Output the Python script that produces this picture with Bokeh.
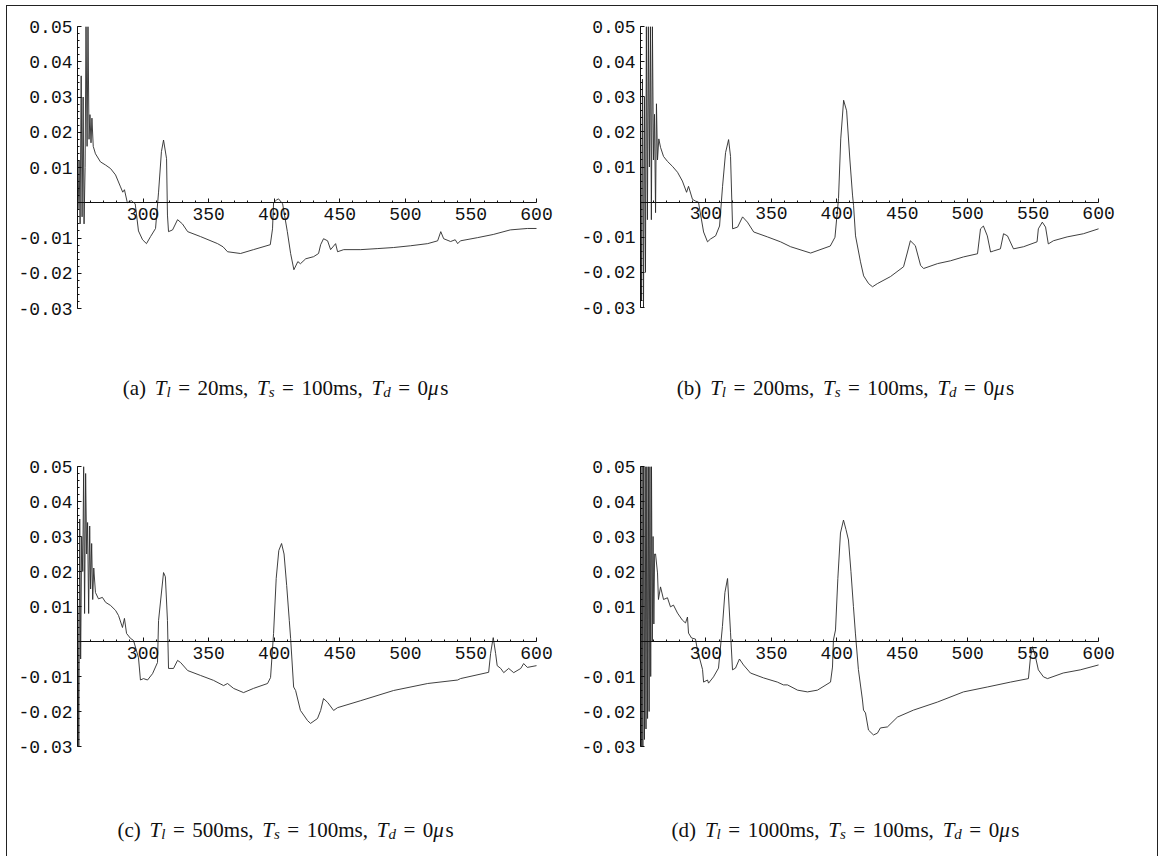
from bokeh.plotting import figure
from bokeh.layouts import column, row
from bokeh.models import FixedTicker, PrintfTickFormatter, ColumnDataSource
from bokeh.core.properties import value
from bokeh.embed import file_html
from bokeh.resources import INLINE

# ---------------- data ----------------
xa = [250.5, 251.2, 252.0, 252.8, 253.5, 254.3, 255.0, 255.8, 256.5, 257.3, 258.0, 258.8, 259.5, 260.3, 261.0, 262.0,
      263.7, 267.5, 271.4, 275.2, 279.0, 282.8, 284.5, 285.8, 288.0, 291.0,
      294.0, 296.5, 299.6, 302.6, 305.7, 309.5, 311.8, 314.0, 315.6, 317.9,
      318.6, 319.4, 322.5, 326.3, 330.0, 334.0, 343.8, 356.8, 361.0, 364.4,
      374.3, 384.2, 397.0, 398.7, 399.5, 401.8, 403.3, 406.4, 410.0, 412.5,
      415.0, 418.0, 420.0, 424.0, 430.0, 433.8, 435.4, 437.6, 440.7, 443.0,
      446.8, 448.3, 453.0, 466.0, 479.0, 491.0, 504.0, 517.0, 524.6, 527.0,
      529.2, 534.5, 538.0, 539.9, 542.0, 555.0, 567.0, 580.0, 593.0, 600.0]
ya = [-0.002, 0.012, -0.006, 0.036, -0.004, 0.030, -0.006, 0.010, 0.050, 0.016, 0.050, 0.018, 0.025, 0.017, 0.024, 0.016,
      0.0139, 0.0116, 0.0107, 0.0097, 0.0079, 0.0045, 0.0030, 0.0037, 0.0, 0.0006,
      -0.0003, -0.008, -0.0105, -0.0116, -0.0096, -0.0073, 0.003, 0.0145, 0.0178, 0.0125,
      -0.0035, -0.0082, -0.0077, -0.0048, -0.006, -0.0082, -0.0096, -0.0116, -0.0125, -0.0139,
      -0.0144, -0.0133, -0.0119, -0.0074, 0.0, 0.0008, 0.0011, -0.0003, -0.0082, -0.0144,
      -0.019, -0.0167, -0.0173, -0.0159, -0.0153, -0.0144, -0.0119, -0.0102, -0.0108, -0.0133,
      -0.0116, -0.0139, -0.0133, -0.0133, -0.013, -0.0127, -0.0122, -0.0116, -0.0108, -0.0082,
      -0.0102, -0.011, -0.0105, -0.0116, -0.0108, -0.0099, -0.009, -0.0077, -0.0073, -0.0073]

xb = [250.0, 250.8, 251.5, 252.3, 253.0, 253.8, 254.5, 255.3, 256.0, 256.8,
      257.6, 258.3, 259.1, 259.9, 260.7, 261.5, 262.2, 263.0, 264.0, 265.3,
      267.6, 270.6, 274.4, 278.3, 282.0, 285.2, 286.7, 289.7, 292.0, 294.3,
      298.2, 301.2, 303.5, 307.4, 310.4, 312.7, 315.0, 317.3, 318.8, 320.4,
      324.2, 328.0, 331.7, 336.5, 347.0, 357.0, 364.7, 380.0, 395.0, 398.6,
      401.3, 403.0, 405.2, 407.5, 410.0, 412.0, 412.8, 414.3, 418.1, 420.5,
      424.3, 427.3, 431.0, 441.0, 451.0, 454.0, 456.2, 460.0, 464.0, 466.3,
      477.0, 486.9, 496.8, 507.5, 509.8, 512.0, 515.0, 517.5, 519.8, 525.0,
      527.4, 530.4, 535.0, 542.7, 553.0, 554.0, 557.0, 559.5, 561.6, 565.5,
      576.0, 588.4, 600.0]
yb = [0.025, -0.028, 0.035, -0.030, 0.030, -0.020, 0.050, -0.005, 0.050, 0.010,
      0.050, -0.005, 0.050, 0.012, 0.025, -0.003, 0.028, 0.012, 0.018, 0.0156,
      0.013, 0.0116, 0.0102, 0.0085, 0.006, 0.0028, 0.0045, 0.0008, 0.0003, 0.0,
      -0.0085, -0.0113, -0.0105, -0.0096, -0.0068, 0.0045, 0.0141, 0.0178, 0.013, -0.0076,
      -0.0071, -0.0042, -0.0057, -0.0085, -0.0099, -0.0113, -0.0127, -0.0145, -0.0125, -0.010,
      0.001, 0.018, 0.029, 0.026, 0.012, 0.002, -0.001, -0.0096, -0.017, -0.021,
      -0.0232, -0.0241, -0.0232, -0.0212, -0.0184, -0.0142, -0.011, -0.0124, -0.018, -0.0189,
      -0.0175, -0.0167, -0.0156, -0.0147, -0.0076, -0.0068, -0.0096, -0.0142, -0.0139, -0.0133,
      -0.009, -0.0096, -0.0133, -0.0127, -0.0113, -0.0076, -0.0057, -0.0071, -0.0119, -0.011,
      -0.0099, -0.009, -0.0076]

xc = [250.3, 251.0, 251.7, 252.4, 253.2, 254.0, 254.7, 255.4, 256.2, 257.0,
      257.7, 258.5, 259.3, 260.0, 260.8, 261.6, 262.4, 263.7, 266.0, 269.0,
      271.4, 275.2, 279.0, 281.3, 284.3, 285.8, 287.4, 290.4, 292.7, 296.5,
      298.0, 300.3, 303.4, 307.2, 311.0, 311.8, 315.6, 317.0, 318.6, 319.4,
      323.2, 326.3, 328.6, 334.0, 343.8, 353.7, 361.4, 364.4, 369.0, 376.6,
      384.2, 394.9, 397.2, 399.5, 401.5, 403.5, 405.6, 407.5, 409.5, 411.5,
      412.5, 414.8, 416.3, 420.0, 425.4, 427.7, 433.0, 435.4, 437.6, 440.7,
      445.3, 448.3, 466.0, 491.0, 517.0, 539.9, 542.0, 563.5, 565.0, 566.6,
      567.0, 568.8, 570.0, 572.7, 575.0, 578.8, 582.6, 588.0, 590.2, 593.0,
      600.0]
yc = [0.010, -0.030, 0.035, -0.005, 0.030, 0.020, 0.050, 0.008, 0.048, 0.025,
      0.034, 0.008, 0.033, 0.015, 0.028, 0.012, 0.021, 0.014, 0.0122, 0.0126,
      0.0112, 0.0103, 0.0089, 0.0074, 0.004, 0.0066, 0.0023, 0.0009, 0.0003, -0.0046,
      -0.011, -0.0106, -0.011, -0.0092, -0.006, 0.006, 0.0197, 0.0185, 0.006, -0.0077,
      -0.0077, -0.0054, -0.006, -0.0083, -0.0097, -0.0111, -0.0126, -0.012, -0.0134, -0.0146,
      -0.0134, -0.012, -0.0103, 0.0023, 0.018, 0.026, 0.028, 0.025, 0.016, 0.006,
      0.0009, -0.013, -0.014, -0.0197, -0.0226, -0.0234, -0.022, -0.0197, -0.0163, -0.0174,
      -0.0197, -0.0189, -0.0169, -0.014, -0.012, -0.011, -0.0106, -0.0088, -0.0034, 0.0003,
      0.0011, -0.0034, -0.0069, -0.0077, -0.0089, -0.0077, -0.0089, -0.0077, -0.0063, -0.0074,
      -0.0069]

xd = [250.0, 250.6, 251.2, 251.8, 252.4, 253.0, 253.6, 254.2, 254.8, 255.4,
      256.0, 256.6, 257.2, 257.8, 258.4, 259.0, 259.6, 260.2, 260.8,
      261.5, 263.0, 263.7, 265.3, 267.6, 270.6, 272.9, 275.2, 278.3, 282.0,
      284.4, 285.9, 286.7, 289.0, 292.0, 293.5, 297.4, 298.2, 301.2, 302.0,
      305.8, 309.6, 312.6, 314.5, 316.5, 318.8, 320.3, 322.6, 325.6, 328.7,
      334.0, 344.0, 354.6, 359.2, 362.3, 370.0, 377.6, 385.2, 395.2, 396.7,
      397.4, 399.0, 400.8, 402.8, 405.1, 407.0, 408.9, 410.8, 412.7, 414.2,
      416.5, 419.6, 420.4, 421.9, 424.2, 428.0, 431.0, 433.3, 438.7, 446.3,
      458.6, 476.9, 496.8, 515.0, 532.7, 546.4, 548.0, 549.5, 551.8, 554.0,
      557.9, 561.0, 573.0, 586.0, 600.0]
yd = [0.050, -0.030, 0.050, -0.030, 0.050, -0.028, 0.050, -0.025, 0.050, -0.022,
      0.050, -0.020, 0.050, -0.010, 0.050, 0.000, 0.030, 0.005, 0.025,
      0.025, 0.0196, 0.012, 0.0156, 0.012, 0.0125, 0.0099, 0.0104, 0.0081, 0.0061,
      0.0053, 0.007, 0.0024, 0.001, 0.0007, -0.0024, -0.008, -0.0116, -0.011, -0.0119,
      -0.0101, -0.0076, 0.0043, 0.014, 0.018, 0.0025, -0.0081, -0.0076, -0.005, -0.0067,
      -0.009, -0.0104, -0.0116, -0.0124, -0.0124, -0.0139, -0.0144, -0.0139, -0.0116, -0.0073,
      0.0004, 0.0033, 0.018, 0.031, 0.0347, 0.032, 0.029, 0.02, 0.01, 0.0024,
      -0.008, -0.0167, -0.0196, -0.0204, -0.0253, -0.0267, -0.0262, -0.0247, -0.0244, -0.0216,
      -0.0196, -0.0173, -0.0144, -0.013, -0.0116, -0.0106, -0.0044, -0.0015, -0.0044, -0.0081,
      -0.0101, -0.0106, -0.009, -0.0081, -0.0067]

panel_letters = ["a", "b", "c", "d"]
tl_values = ["20", "200", "500", "1000"]
ts_value = "100"
td_value = "0"

x_major = [300, 350, 400, 450, 500, 550, 600]
x_minor = [v for v in range(260, 600, 10) if v % 50 != 0]
y_major = [-0.03, -0.02, -0.01, 0.01, 0.02, 0.03, 0.04, 0.05]
y_minor = [round(-0.03 + 0.002 * i, 4) for i in range(41)]

# ---------------- caption helpers ----------------
RM = {'(': 0.333, ')': 0.333, 'a': 0.444, 'b': 0.5, 'c': 0.444, 'd': 0.5, ' ': 0.25,
      '=': 0.564, 'm': 0.778, 's': 0.389, ',': 0.25}
for ch in "0123456789":
    RM[ch] = 0.5
IT = {'T': 0.556, 'l': 0.278, 's': 0.389, 'd': 0.5, 'μ': 0.576}
CAP_FS = 21


def caption_fig(letter, tl, w, h, cx, base_from_top):
    fs = CAP_FS
    toks = [('rm', f'({letter})'), ('gap', 0.42), ('it', 'T'), ('sub', 'l'), ('gap', 0.36),
            ('rm', '='), ('gap', 0.36), ('rm', f'{tl}ms,'), ('gap', 0.42), ('it', 'T'), ('sub', 's'),
            ('gap', 0.36), ('rm', '='), ('gap', 0.36), ('rm', f'{ts_value}ms,'), ('gap', 0.42),
            ('it', 'T'), ('sub', 'd'), ('gap', 0.36), ('rm', '='), ('gap', 0.36),
            ('rm', td_value), ('it', 'μ'), ('rm', 's')]

    def tw(t):
        kind, s = t
        if kind == 'gap':
            return s * fs
        if kind == 'rm':
            return sum(RM.get(c, 0.5) for c in s) * fs
        if kind == 'it':
            return sum(IT.get(c, 0.5) for c in s) * fs
        return sum(IT.get(c, 0.5) for c in s) * fs * 0.7

    total = sum(tw(t) for t in toks)
    xpos = cx - total / 2.0
    base = h - base_from_top
    xs, ys, txt, sizes, styles = [], [], [], [], []
    for t in toks:
        kind, s = t
        if kind != 'gap':
            xs.append(xpos)
            ys.append(base - (0.22 * fs if kind == 'sub' else 0))
            txt.append(s)
            sizes.append(f"{round(fs * 0.7) if kind == 'sub' else fs}px")
            styles.append("italic" if kind in ('it', 'sub') else "normal")
        xpos += tw(t)
    src = ColumnDataSource(dict(x=xs, y=ys, text=txt, size=sizes, style=styles))
    p = figure(width=w, height=h, x_range=(0, w), y_range=(0, h), output_backend="svg",
               toolbar_location=None, min_border=0)
    p.axis.visible = False
    p.grid.visible = False
    p.outline_line_color = None
    p.text(x='x', y='y', text='text', source=src, text_font=value("Liberation Serif"),
           text_font_size='size', text_font_style='style', text_color="#111111",
           text_align="left", text_baseline="alphabetic")
    return p


def make_panel(x, y, fw, fh, ml, mr, mt, mb):
    p = figure(frame_width=fw, frame_height=fh, x_range=(250, 616), y_range=(-0.03, 0.05),
               output_backend="svg", toolbar_location=None,
               min_border_left=ml, min_border_right=mr, min_border_top=mt, min_border_bottom=mb)
    p.grid.visible = False
    p.outline_line_color = None

    p.line(x, y, line_color="#2a2a2a", line_width=0.9)

    xa_ = p.xaxis[0]
    xa_.fixed_location = 0
    xa_.bounds = (250, 600)
    xa_.ticker = FixedTicker(ticks=x_major, minor_ticks=x_minor)
    xa_.formatter = PrintfTickFormatter(format="%d")
    ya_ = p.yaxis[0]
    ya_.ticker = FixedTicker(ticks=y_major, minor_ticks=y_minor)
    ya_.formatter = PrintfTickFormatter(format="%.2f")
    for ax in (xa_, ya_):
        ax.axis_line_color = "#111111"
        ax.axis_line_width = 1
        ax.major_tick_in = 4
        ax.major_tick_out = 0
        ax.minor_tick_in = 2
        ax.minor_tick_out = 0
        ax.major_tick_line_color = "#111111"
        ax.minor_tick_line_color = "#111111"
        ax.major_label_text_font = "Liberation Mono"
        ax.major_label_text_font_size = "18px"
        ax.major_label_text_color = "#111111"
        ax.major_label_standoff = 5
    return p


WL, WR = 560, 590
pa = make_panel(xa, ya, 480, 282, 70, 10, 19, 40)
pb = make_panel(xb, yb, 479, 281, 73, 38, 20, 40)
pc = make_panel(xc, yc, 480, 280, 70, 10, 17, 40)
pd = make_panel(xd, yd, 479, 280, 73, 38, 17, 40)

ca = caption_fig(panel_letters[0], tl_values[0], WL, 102, 278, 40)
cb = caption_fig(panel_letters[1], tl_values[1], WR, 102, 278, 40)
cc = caption_fig(panel_letters[2], tl_values[2], WL, 70, 278, 43)
cd = caption_fig(panel_letters[3], tl_values[3], WR, 70, 278, 43)

layout = column(row(pa, pb), row(ca, cb), row(pc, pd), row(cc, cd),
                styles={"border-left": "1px solid #222", "border-top": "1px solid #222",
                        "border-right": "1px solid #222", "margin-left": "6px",
                        "margin-top": "5px"})

open("out.html", "w").write(file_html(layout, INLINE))
